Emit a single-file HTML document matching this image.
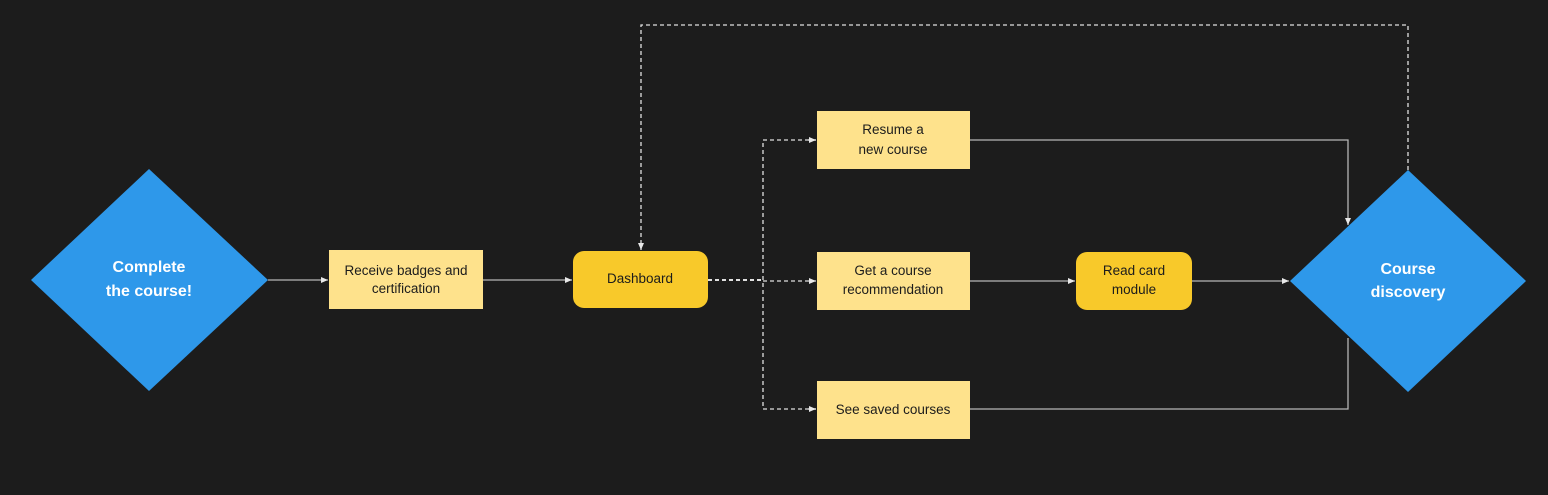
<!DOCTYPE html>
<html><head><style>
html,body{margin:0;padding:0;background:#1c1c1c;}
svg{display:block}
text{font-family:"Liberation Sans",sans-serif;}
</style></head><body>
<svg width="1548" height="495" viewBox="0 0 1548 495" xmlns="http://www.w3.org/2000/svg">
<defs>
<marker id="a" markerWidth="8" markerHeight="8" refX="7" refY="4" orient="auto" markerUnits="userSpaceOnUse"><path d="M0,1 L7,4 L0,7 Z" fill="#e8e8e8"/></marker>
</defs>
<rect width="1548" height="495" fill="#1c1c1c"/>
<!-- connectors solid -->
<g stroke="#b5b5b5" stroke-width="1.3" fill="none">
<line x1="268" y1="280" x2="328" y2="280" marker-end="url(#a)"/>
<line x1="483" y1="280" x2="572" y2="280" marker-end="url(#a)"/>
<line x1="970" y1="281" x2="1075" y2="281" marker-end="url(#a)"/>
<line x1="1192" y1="281" x2="1289" y2="281" marker-end="url(#a)"/>
<polyline points="970,140 1348,140 1348,225" marker-end="url(#a)"/>
<polyline points="970,409 1348,409 1348,338"/>
</g>
<!-- dashed -->
<g stroke="#e0e0e0" stroke-width="1.3" fill="none" stroke-dasharray="4,3">
<polyline points="1408,170 1408,25 641,25 641,250" marker-end="url(#a)"/>
<line x1="708" y1="280" x2="763" y2="280" stroke-width="2"/>
<line x1="763" y1="281" x2="816" y2="281" marker-end="url(#a)"/>
<polyline points="816,140 763,140 763,409 816,409"/>
<line x1="808" y1="140" x2="816" y2="140" marker-end="url(#a)" stroke-dasharray="none"/>
<line x1="808" y1="409" x2="816" y2="409" marker-end="url(#a)" stroke-dasharray="none"/>
</g>
<!-- diamonds -->
<polygon points="149,169 268,280 149,391 31,280" fill="#2e98ea"/>
<polygon points="1408,170 1526,281 1408,392 1290,281" fill="#2e98ea"/>
<text x="149" y="272" fill="#fff" font-size="16" font-weight="bold" text-anchor="middle">Complete</text>
<text x="149" y="296" fill="#fff" font-size="16" font-weight="bold" text-anchor="middle">the course!</text>
<text x="1408" y="274" fill="#fff" font-size="16" font-weight="bold" text-anchor="middle">Course</text>
<text x="1408" y="297" fill="#fff" font-size="16" font-weight="bold" text-anchor="middle">discovery</text>
<!-- boxes -->
<g fill="#fee28c">
<rect x="329" y="250" width="154" height="59"/>
<rect x="817" y="111" width="153" height="58"/>
<rect x="817" y="252" width="153" height="58"/>
<rect x="817" y="381" width="153" height="58"/>
</g>
<rect x="573" y="251" width="135" height="57" rx="11" fill="#f8c92a"/>
<rect x="1076" y="252" width="116" height="58" rx="11" fill="#f8c92a"/>
<g fill="#1c1c1c" font-size="13.5" text-anchor="middle">
<text x="406" y="275">Receive badges and</text>
<text x="406" y="293">certification</text>
<text x="640" y="283">Dashboard</text>
<text x="893" y="134">Resume a</text>
<text x="893" y="154">new course</text>
<text x="893" y="275">Get a course</text>
<text x="893" y="294">recommendation</text>
<text x="893" y="414">See saved courses</text>
<text x="1134" y="275">Read card</text>
<text x="1134" y="294">module</text>
</g>
</svg>
</body></html>
